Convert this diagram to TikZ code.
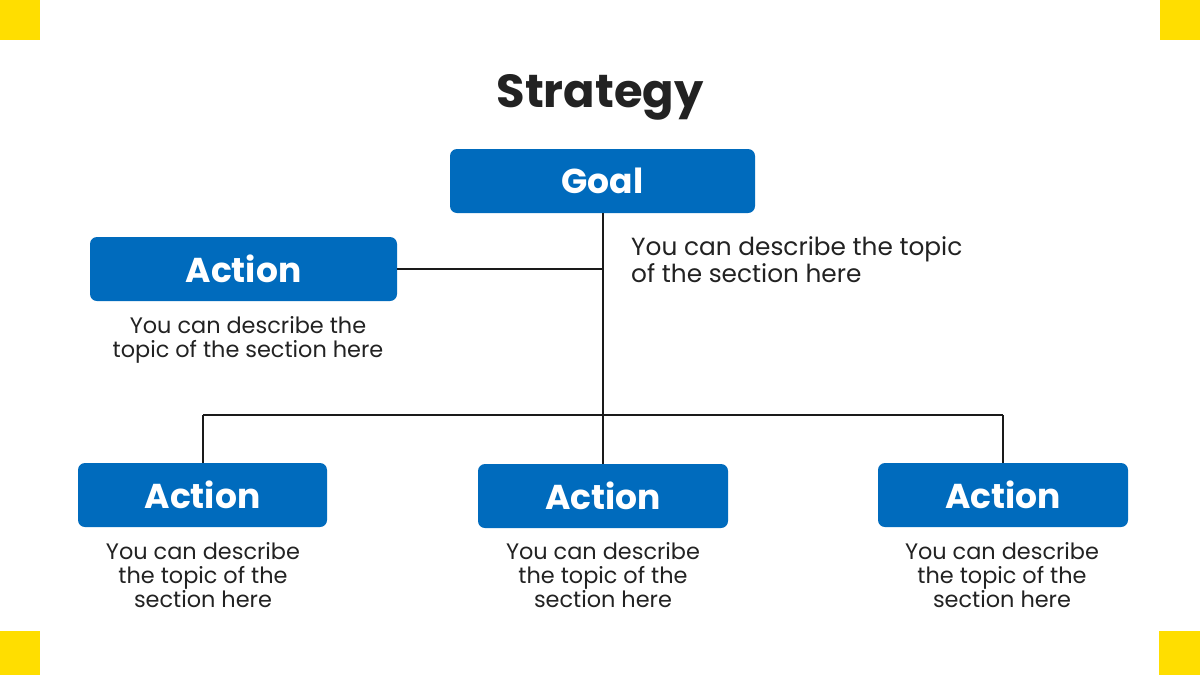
\documentclass[tikz,border=0pt]{standalone}
\usepackage{fontspec}
\setmainfont{Poppins}
\definecolor{boxblue}{HTML}{006BBD}
\definecolor{corneryellow}{HTML}{FFDE00}
\definecolor{txt}{HTML}{222222}
\definecolor{linec}{HTML}{1A1A1A}
\begin{document}
\begin{tikzpicture}[x=1pt,y=-1pt,
  bluebox/.style={fill=boxblue,rounded corners=7pt,draw=none,text=white,font=\bfseries\fontsize{34.5}{40}\selectfont,inner sep=0pt},
  desc/.style={text=txt,font=\fontsize{22.4}{24}\selectfont,inner sep=0pt,align=center},
  conn/.style={draw=linec,line width=2pt},
  corner/.style={fill=corneryellow,draw=none}]
\useasboundingbox (0,0) rectangle (1200,675);
\fill[white] (0,0) rectangle (1200,675);
% corners
\path[corner] (0,0) rectangle (40,40);
\path[corner] (1160,0) rectangle (1200,40);
\path[corner] (0,631) rectangle (40,675);
\path[corner] (1159,631) rectangle (1200,675);
% title
\node[text=txt,font=\bfseries\fontsize{46.4}{56}\selectfont,inner sep=0pt,anchor=base] (title) at (600,107) {Strategy};
% boxes
\node[bluebox,minimum width=305pt,minimum height=64pt] (goal) at (602.5,181) {Goal};
\node[bluebox,minimum width=307pt,minimum height=64pt] (a0) at (243.5,269) {Action};
\node[bluebox,minimum width=249pt,minimum height=64pt] (a1) at (202.5,495) {Action};
\node[bluebox,minimum width=250pt,minimum height=64pt] (a2) at (603,496) {Action};
\node[bluebox,minimum width=250pt,minimum height=64pt] (a3) at (1003,495) {Action};
% coordinates
\coordinate (j0) at (603,269);
\coordinate (j1) at (603,415);
\coordinate (l1) at (203,415);
\coordinate (r1) at (1003,415);
% connectors
\draw[conn] (goal.south -| j1) -- (j1);
\draw[conn] (a0.east) -- (j0);
\draw[conn] (l1) -- (r1);
\draw[conn] (l1) -- (l1 |- a1.north);
\draw[conn] (j1) -- (j1 |- a2.north);
\draw[conn] (r1) -- (r1 |- a3.north);
% descriptions (base anchor = baseline of last line)
\node[desc,align=left,anchor=base west,font=\fontsize{24.8}{26.5}\selectfont] (dg) at (631,282) {You can describe the topic\\of the section here};
\node[desc,anchor=base] (d0) at (248,357) {You can describe the\\topic of the section here};
\node[desc,anchor=base] (d1) at (203,607) {You can describe\\the topic of the\\section here};
\node[desc,anchor=base] (d2) at (603,607) {You can describe\\the topic of the\\section here};
\node[desc,anchor=base] (d3) at (1002,607) {You can describe\\the topic of the\\section here};
\end{tikzpicture}
\end{document}
